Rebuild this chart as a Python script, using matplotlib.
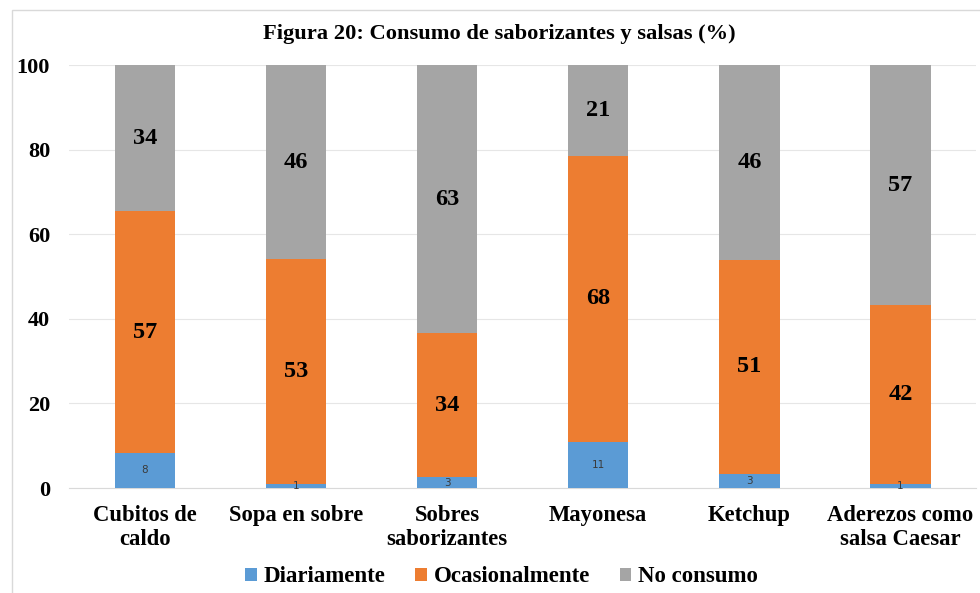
import matplotlib
matplotlib.use("Agg")
import matplotlib.pyplot as plt
from matplotlib.patches import Rectangle
import numpy as np

categories = ["Cubitos de\ncaldo", "Sopa en sobre", "Sobres\nsaborizantes",
              "Mayonesa", "Ketchup", "Aderezos como\nsalsa Caesar"]
diariamente = [8.3, 1.0, 2.6, 10.9, 3.4, 1.0]
ocasionalmente = [57.2, 53.1, 34.0, 67.7, 50.6, 42.3]
no_consumo = [34.5, 45.9, 63.4, 21.4, 46.0, 56.7]
series_names = ["Diariamente", "Ocasionalmente", "No consumo"]
colors = ["#5B9BD5", "#ED7D31", "#A5A5A5"]
title = "Figura 20: Consumo de saborizantes y salsas (%)"

serif = "Liberation Serif"

fig = plt.figure(figsize=(9.8, 5.93), dpi=100)
ax = fig.add_axes([0.0709, 0.177, 0.925, 0.713])

x = np.arange(len(categories))
width = 0.4
bottoms = np.zeros(len(categories))
data = [diariamente, ocasionalmente, no_consumo]
for i, (vals, name, c) in enumerate(zip(data, series_names, colors)):
    vals = np.array(vals)
    ax.bar(x, vals, width, bottom=bottoms, color=c, label=name, zorder=3)
    for xi, b, v in zip(x, bottoms, vals):
        if i == 0:
            ax.text(xi, b + v / 2, f"{v:.0f}", ha="center", va="center",
                    fontsize=7.5, color="#3A3A3A", family="DejaVu Sans", zorder=4)
        else:
            ax.text(xi, b + v / 2, f"{v:.0f}", ha="center", va="center",
                    fontsize=17.5, fontweight="bold", family=serif, color="black", zorder=4)
    bottoms += vals

ax.set_xlim(-0.5, len(categories) - 0.5)
ax.set_ylim(0, 100)
ax.set_yticks(np.arange(0, 101, 20))
ax.yaxis.grid(True, color="#E6E6E6", linewidth=0.8, zorder=0)
ax.set_axisbelow(True)
for s in ["top", "right", "left"]:
    ax.spines[s].set_visible(False)
ax.spines["bottom"].set_color("#D9D9D9")
ax.tick_params(axis="both", length=0)
ax.set_xticks(x)
ax.set_xticklabels(categories, fontsize=16.3, fontweight="bold", family=serif,
                   linespacing=1.2)
for lbl in ax.get_yticklabels():
    lbl.set_fontsize(16)
    lbl.set_fontweight("bold")
    lbl.set_family(serif)
ax.tick_params(axis="x", pad=12)
ax.tick_params(axis="y", pad=14)

fig.text(0.51, 0.942, title, ha="center", va="center", fontsize=16.2,
         fontweight="bold", family=serif)

fig.legend(loc="center", bbox_to_anchor=(0.512, 0.027), ncol=3, frameon=False,
           prop={"family": serif, "weight": "bold", "size": 16.5},
           handlelength=0.5, handleheight=0.5, handletextpad=0.3, columnspacing=1.3)

fig.patches.append(Rectangle((12 / 980, -0.1), 1.0, (593 - 10) / 593 + 0.1,
                             transform=fig.transFigure, fill=False,
                             edgecolor="#D9D9D9", linewidth=1.0))

fig.savefig("out.png", dpi=100)
